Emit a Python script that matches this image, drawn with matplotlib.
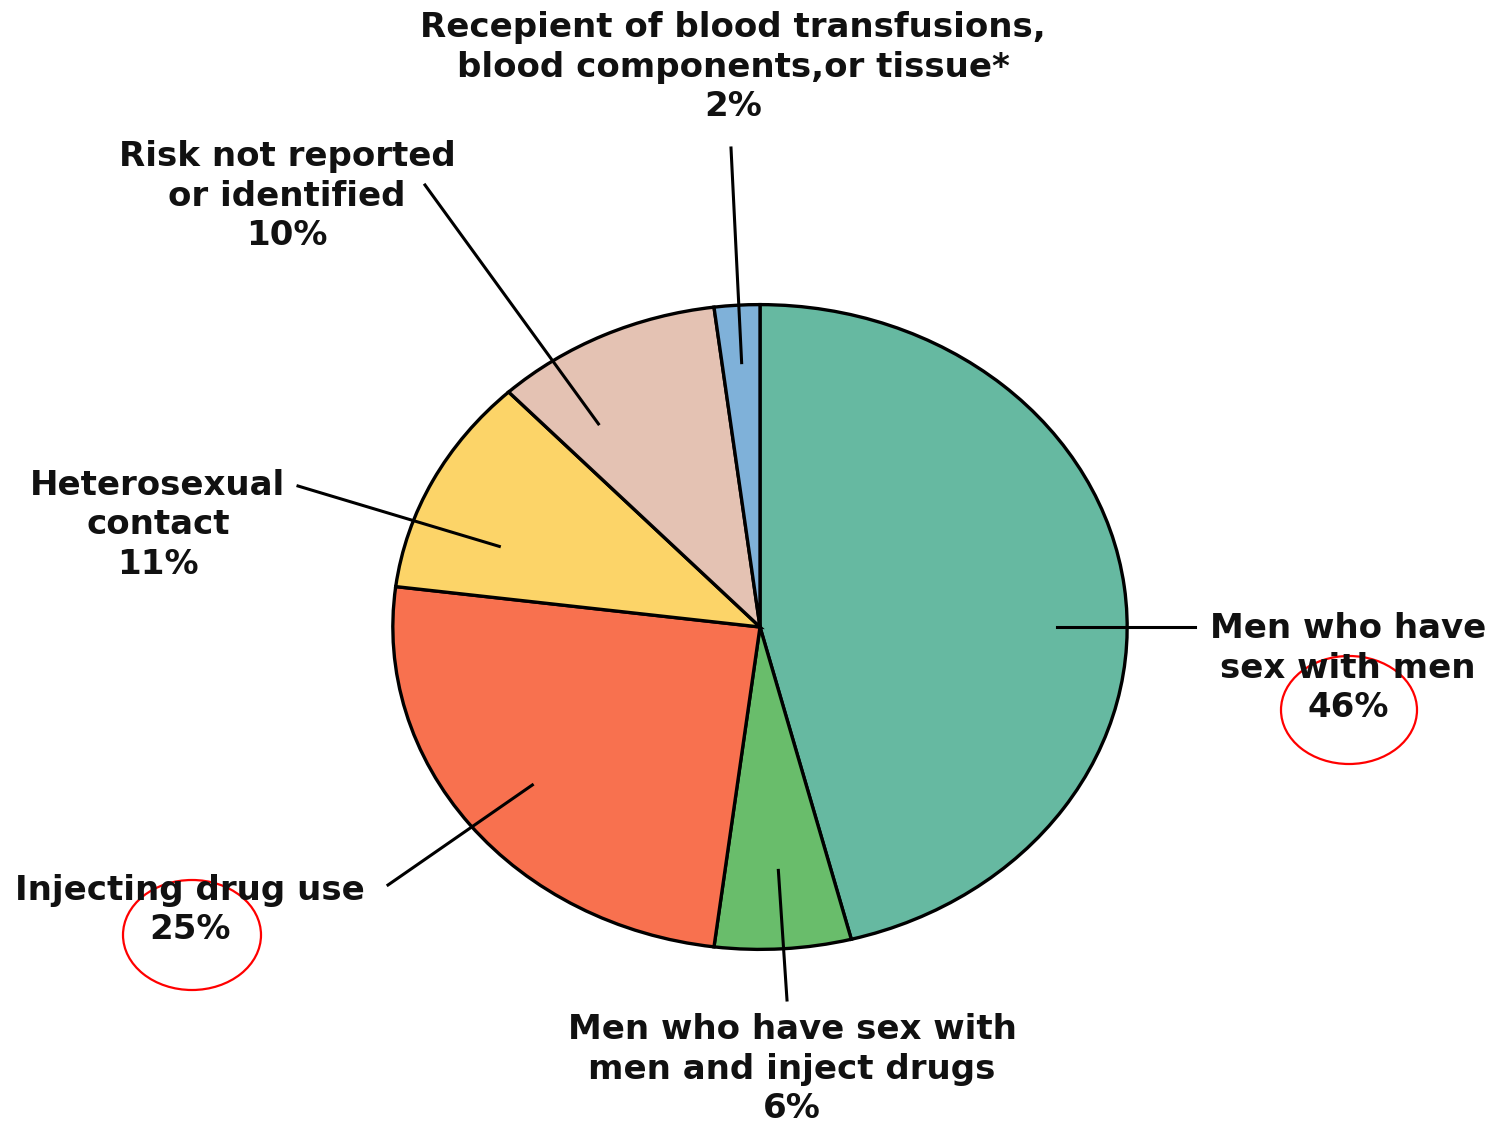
import matplotlib.pyplot as plt
from matplotlib.patches import Ellipse
import numpy as np

# slices, clockwise from 12 o'clock
labels = ["Men who have\nsex with men",
          "Men who have sex with\nmen and inject drugs",
          "Injecting drug use",
          "Heterosexual\ncontact",
          "Risk not reported\nor identified",
          "Recepient of blood transfusions,\nblood components,or tissue*"]
shares = [46, 6, 25, 11, 10, 2]
colors = ["#66b9a1", "#69bd6b", "#f8714f", "#fcd468", "#e4c2b3", "#7fb1d9"]

# (inner point in pie coords, text centre in pixels)
anchors = [((0.81, 0.0), (1348, 668)),
           ((0.05, -0.755), (792, 1069)),
           ((-0.62, -0.49), (190, 910)),
           ((-0.71, 0.25), (158, 525)),
           ((-0.44, 0.63), (287, 196)),
           ((-0.05, 0.82), (733, 67))]
leader_ends = [(1195, 627), (787, 1000), (388, 885), (298, 486), (425, 185), (731, 148)]

W, H = 1499, 1126
fig = plt.figure(figsize=(W / 100, H / 100), dpi=100)

# overlay in pixel coords
over = fig.add_axes([0, 0, 1, 1])
over.set_xlim(0, W)
over.set_ylim(H, 0)
over.axis("off")

cx, cy, rx, ry = 760, 627, 369, 324
pie_ax = fig.add_axes([(cx - rx) / W, 1 - (cy + ry) / H, 2 * rx / W, 2 * ry / H])
pie_ax.pie(shares, colors=colors, startangle=90, counterclock=False, radius=1,
           wedgeprops=dict(edgecolor="black", linewidth=2.4))
pie_ax.set_aspect("auto")
pie_ax.set_xlim(-1.005, 1.005)
pie_ax.set_ylim(-1.005, 1.005)
pie_ax.axis("off")
pie_ax.set_zorder(1)
over.set_zorder(2)
over.patch.set_alpha(0)

font = dict(family=["DejaVu Sans"], weight="bold", fontsize=24.5)
for i, (lab, val) in enumerate(zip(labels, shares)):
    inner, tpos = anchors[i]
    px, py = pie_ax.transData.transform(inner)
    ix, iy = over.transData.inverted().transform((px, py))
    ex, ey = leader_ends[i]
    over.plot([ix, ex], [iy, ey], color="black", lw=2.2)
    over.text(tpos[0], tpos[1], f"{lab}\n{val}%", ha="center", va="center",
              linespacing=1.26, color="#111111", **font)

# hand-drawn red circles around two percentages
circles = [((1349, 710), 136, 108), ((192, 935), 138, 110)]
for (x, y), w, h in circles:
    over.add_patch(Ellipse((x, y), w, h, fill=False, edgecolor="red", lw=1.6))

fig.savefig("out.png", dpi=100)
